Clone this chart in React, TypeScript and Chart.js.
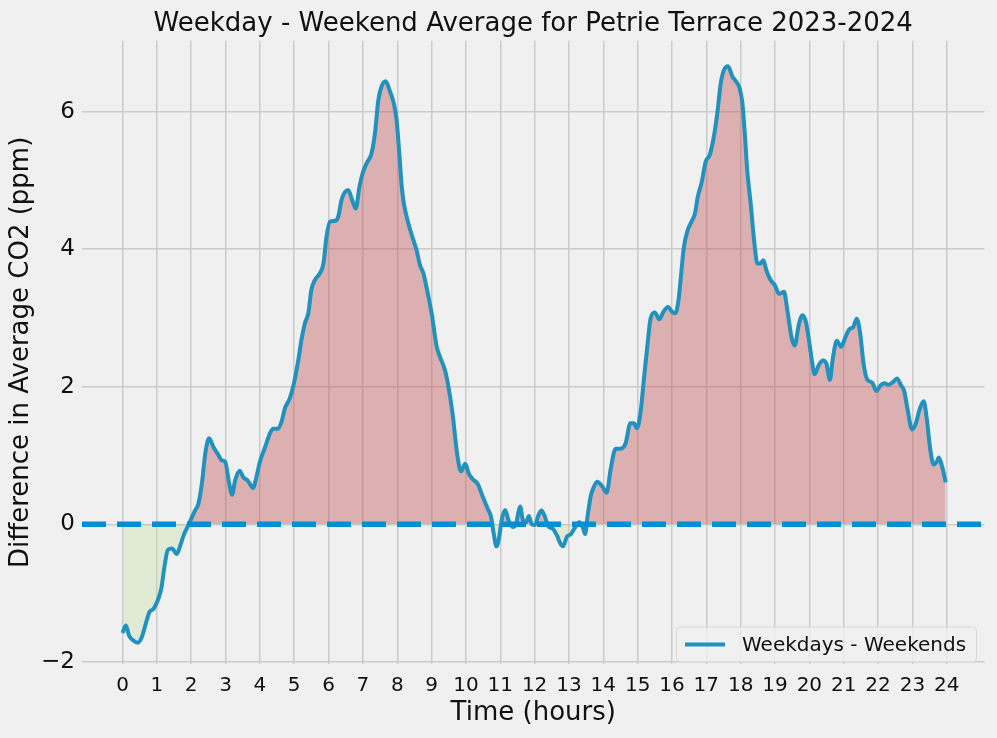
import { useEffect, useRef } from 'react';
import { Chart, registerables } from 'chart.js';

Chart.register(...registerables);

// Weekday minus weekend average CO2
const hours = [
  0.0, 0.1, 0.19, 0.32, 0.44, 0.56, 0.69, 0.79, 0.9, 1.03, 1.13, 1.22, 1.32, 1.44, 1.58, 1.68, 1.78, 1.89,
  2.0, 2.11, 2.21, 2.31, 2.41, 2.52, 2.65, 2.8, 2.89, 2.99, 3.09, 3.19, 3.28, 3.41, 3.52, 3.64, 3.8, 3.91,
  4.0, 4.15, 4.29, 4.39, 4.53, 4.63, 4.73, 4.87, 5.0, 5.12, 5.21, 5.31, 5.41, 5.5, 5.6, 5.75, 5.85, 5.94,
  6.04, 6.18, 6.28, 6.38, 6.57, 6.67, 6.79, 6.9, 6.99, 7.11, 7.25, 7.35, 7.45, 7.54, 7.66, 7.79, 7.9, 7.98,
  8.06, 8.13, 8.19, 8.32, 8.47, 8.56, 8.66, 8.76, 8.85, 9.0, 9.15, 9.24, 9.39, 9.49, 9.61, 9.75, 9.86, 9.98,
  10.08, 10.19, 10.34, 10.49, 10.63, 10.73, 10.81, 10.89, 10.97, 11.04, 11.14, 11.24, 11.36, 11.46, 11.52,
  11.58, 11.66, 11.75, 11.83, 11.92, 12.01, 12.11, 12.2, 12.3, 12.4, 12.52, 12.65, 12.75, 12.83, 12.94,
  13.06, 13.17, 13.3, 13.4, 13.47, 13.54, 13.63, 13.72, 13.82, 13.97, 14.1, 14.21, 14.36, 14.5, 14.65,
  14.79, 14.89, 14.98, 15.08, 15.18, 15.28, 15.38, 15.5, 15.63, 15.75, 15.89, 16.0, 16.1, 16.19, 16.26,
  16.34, 16.46, 16.57, 16.67, 16.75, 16.86, 16.98, 17.1, 17.22, 17.32, 17.42, 17.52, 17.63, 17.76, 17.86,
  17.97, 18.05, 18.12, 18.19, 18.29, 18.39, 18.49, 18.58, 18.66, 18.75, 18.87, 18.99, 19.12, 19.26, 19.36,
  19.48, 19.57, 19.7, 19.8, 19.9, 19.99, 20.09, 20.15, 20.28, 20.4, 20.5, 20.6, 20.68, 20.8, 20.92, 21.05,
  21.17, 21.27, 21.38, 21.48, 21.58, 21.68, 21.83, 21.95, 22.07, 22.18, 22.31, 22.44, 22.55, 22.67, 22.76,
  22.86, 22.99, 23.09, 23.21, 23.33, 23.42, 23.52, 23.62, 23.7, 23.77, 23.86, 23.97,
];

const diffs = [
  -1.58, -1.47, -1.62, -1.69, -1.72, -1.64, -1.42, -1.27, -1.23, -1.1, -0.93, -0.62, -0.37, -0.35, -0.43, -0.31, -0.16, -0.04,
  0.08, 0.2, 0.3, 0.59, 1.03, 1.25, 1.12, 1.0, 0.93, 0.91, 0.64, 0.43, 0.64, 0.78, 0.68, 0.64, 0.53, 0.71,
  0.91, 1.12, 1.32, 1.39, 1.39, 1.49, 1.69, 1.83, 2.07, 2.39, 2.68, 2.92, 3.07, 3.41, 3.55, 3.65, 3.79, 4.18,
  4.4, 4.41, 4.47, 4.72, 4.86, 4.74, 4.59, 4.91, 5.1, 5.25, 5.39, 5.68, 6.17, 6.36, 6.44, 6.29, 6.12, 5.88,
  5.39, 4.91, 4.67, 4.38, 4.13, 3.99, 3.77, 3.65, 3.45, 3.07, 2.58, 2.44, 2.24, 2.0, 1.61, 1.0, 0.77, 0.88,
  0.74, 0.66, 0.59, 0.4, 0.23, 0.11, -0.14, -0.32, -0.18, 0.06, 0.21, 0.06, -0.04, 0.0, 0.16,
  0.26, 0.06, 0.03, 0.12, 0.0, -0.01, 0.13, 0.2, 0.11, -0.03, -0.06, -0.16, -0.28, -0.32, -0.18,
  -0.14, -0.05, 0.03, -0.04, -0.14, 0.11, 0.4, 0.54, 0.62, 0.55, 0.46, 0.79, 1.1, 1.1, 1.18,
  1.47, 1.47, 1.4, 1.61, 2.1, 2.58, 3.0, 3.08, 2.98, 3.09, 3.16, 3.09, 3.07, 3.26, 3.6,
  4.01, 4.28, 4.4, 4.52, 4.76, 4.96, 5.27, 5.37, 5.64, 5.98, 6.41, 6.61, 6.66, 6.51, 6.44,
  6.34, 6.12, 5.68, 5.15, 4.67, 4.13, 3.79, 3.79, 3.84, 3.69, 3.55, 3.48, 3.35, 3.38, 3.11,
  2.72, 2.6, 2.92, 3.04, 2.94, 2.67, 2.33, 2.18, 2.32, 2.38, 2.33, 2.1, 2.4, 2.67, 2.58, 2.72,
  2.84, 2.86, 2.99, 2.77, 2.33, 2.11, 2.06, 1.94, 2.02, 2.05, 2.03, 2.07, 2.12, 2.02, 1.94,
  1.67, 1.38, 1.45, 1.67, 1.79, 1.53, 1.09, 0.87, 0.9, 0.97, 0.85, 0.61,
];

const xTicks = [0, 1, 2, 3, 4, 5, 6, 7, 8, 9, 10, 11, 12, 13, 14, 15, 16, 17, 18, 19, 20, 21, 22, 23, 24];
const yTicks = [-2, 0, 2, 4, 6];
const X_MIN = -1.18;
const X_MAX = 25.1;
const Y_MIN = -2.03;
const Y_MAX = 7.03;

const chartTitle = 'Weekday - Weekend Average for Petrie Terrace 2023-2024';
const seriesLabel = 'Weekdays - Weekends';
const LINE_COLOR = 'rgb(33,145,190)';
const FONT = 'DejaVu Sans';

// title centred over the plot area, plus the legend box in its lower right corner
const decorations = {
  id: 'decorations',
  afterDraw(chart: Chart) {
    const { ctx, chartArea } = chart;
    ctx.save();
    ctx.fillStyle = '#111';
    ctx.font = `26px "${FONT}"`;
    ctx.textAlign = 'center';
    ctx.textBaseline = 'alphabetic';
    ctx.fillText(chartTitle, (chartArea.left + chartArea.right) / 2, 30.5);

    const w = 300;
    const h = 35;
    const x = chartArea.right - 8 - w;
    const y = chartArea.bottom - 2 - h;
    ctx.beginPath();
    ctx.roundRect(x, y, w, h, 4);
    ctx.fillStyle = 'rgba(240,240,240,0.8)';
    ctx.fill();
    ctx.strokeStyle = '#d8d8d8';
    ctx.lineWidth = 1;
    ctx.stroke();
    ctx.beginPath();
    ctx.moveTo(x + 8.5, y + h / 2);
    ctx.lineTo(x + 48.5, y + h / 2);
    ctx.strokeStyle = LINE_COLOR;
    ctx.lineWidth = 4;
    ctx.stroke();
    ctx.fillStyle = '#111';
    ctx.font = `20px "${FONT}"`;
    ctx.textAlign = 'left';
    ctx.textBaseline = 'middle';
    ctx.fillText(seriesLabel, x + 65.5, y + h / 2 + 1);
    ctx.restore();
  },
};

export default function App() {
  const canvasRef = useRef<HTMLCanvasElement>(null);

  useEffect(() => {
    document.body.style.margin = '0';
    document.body.style.background = '#f0f0f0';
    if (!canvasRef.current) return;

    const chart = new Chart(canvasRef.current, {
      type: 'line',
      data: {
        datasets: [
          {
            label: 'zero',
            data: [
              { x: X_MIN, y: 0 },
              { x: X_MAX, y: 0 },
            ],
            borderColor: '#008fd5',
            borderWidth: 5.5,
            borderDash: [24, 11],
            pointRadius: 0,
            fill: false,
            order: 0,
          },
          {
            label: seriesLabel,
            data: hours.map((h, i) => ({ x: h, y: diffs[i] })),
            borderColor: LINE_COLOR,
            borderWidth: 4,
            pointRadius: 0,
            cubicInterpolationMode: 'monotone',
            fill: {
              target: { value: 0 },
              above: 'rgba(190,80,82,0.4)',
              below: 'rgba(193,223,150,0.3)',
            },
            order: 1,
          },
        ],
      },
      options: {
        animation: false,
        responsive: false,
        devicePixelRatio: 1,
        layout: { padding: { left: 0, right: 12.5, top: 40.7, bottom: 0 } },
        plugins: {
          legend: { display: false },
          tooltip: { enabled: false },
          title: { display: false },
        },
        scales: {
          x: {
            type: 'linear',
            min: X_MIN,
            max: X_MAX,
            afterBuildTicks: (scale: any) => {
              scale.ticks = xTicks.map((v) => ({ value: v }));
            },
            afterFit: (scale: any) => {
              scale.height = 74;
            },
            ticks: {
              color: '#111',
              font: { family: FONT, size: 20 },
              padding: 10,
              maxRotation: 0,
              autoSkip: false,
              callback: (v: any) => String(v),
            },
            grid: { color: '#cbcbcb', lineWidth: 1.5, drawTicks: false },
            border: { display: false },
            title: {
              display: true,
              text: 'Time (hours)',
              color: '#111',
              font: { family: FONT, size: 26, lineHeight: 1.2 },
              padding: { top: 0, bottom: 9 },
            },
          },
          y: {
            type: 'linear',
            min: Y_MIN,
            max: Y_MAX,
            afterBuildTicks: (scale: any) => {
              scale.ticks = yTicks.map((v) => ({ value: v }));
            },
            afterFit: (scale: any) => {
              scale.width = 82;
            },
            ticks: {
              color: '#111',
              font: { family: FONT, size: 23 },
              padding: 7,
              callback: (v: any) => (v < 0 ? '\u2212' + Math.abs(v) : String(v)),
            },
            grid: { color: '#cbcbcb', lineWidth: 1.5, drawTicks: false },
            border: { display: false },
            title: {
              display: true,
              text: 'Difference in Average CO2 (ppm)',
              color: '#111',
              font: { family: FONT, size: 26, lineHeight: 1.2 },
              padding: { top: 6, bottom: 0 },
            },
          },
        },
      },
      plugins: [decorations],
    });

    return () => chart.destroy();
  }, []);

  return (
    <div style={{ position: 'fixed', left: 0, top: 0, width: 997, height: 738, background: '#f0f0f0' }}>
      <canvas ref={canvasRef} width={997} height={738} style={{ width: 997, height: 738 }} />
    </div>
  );
}
